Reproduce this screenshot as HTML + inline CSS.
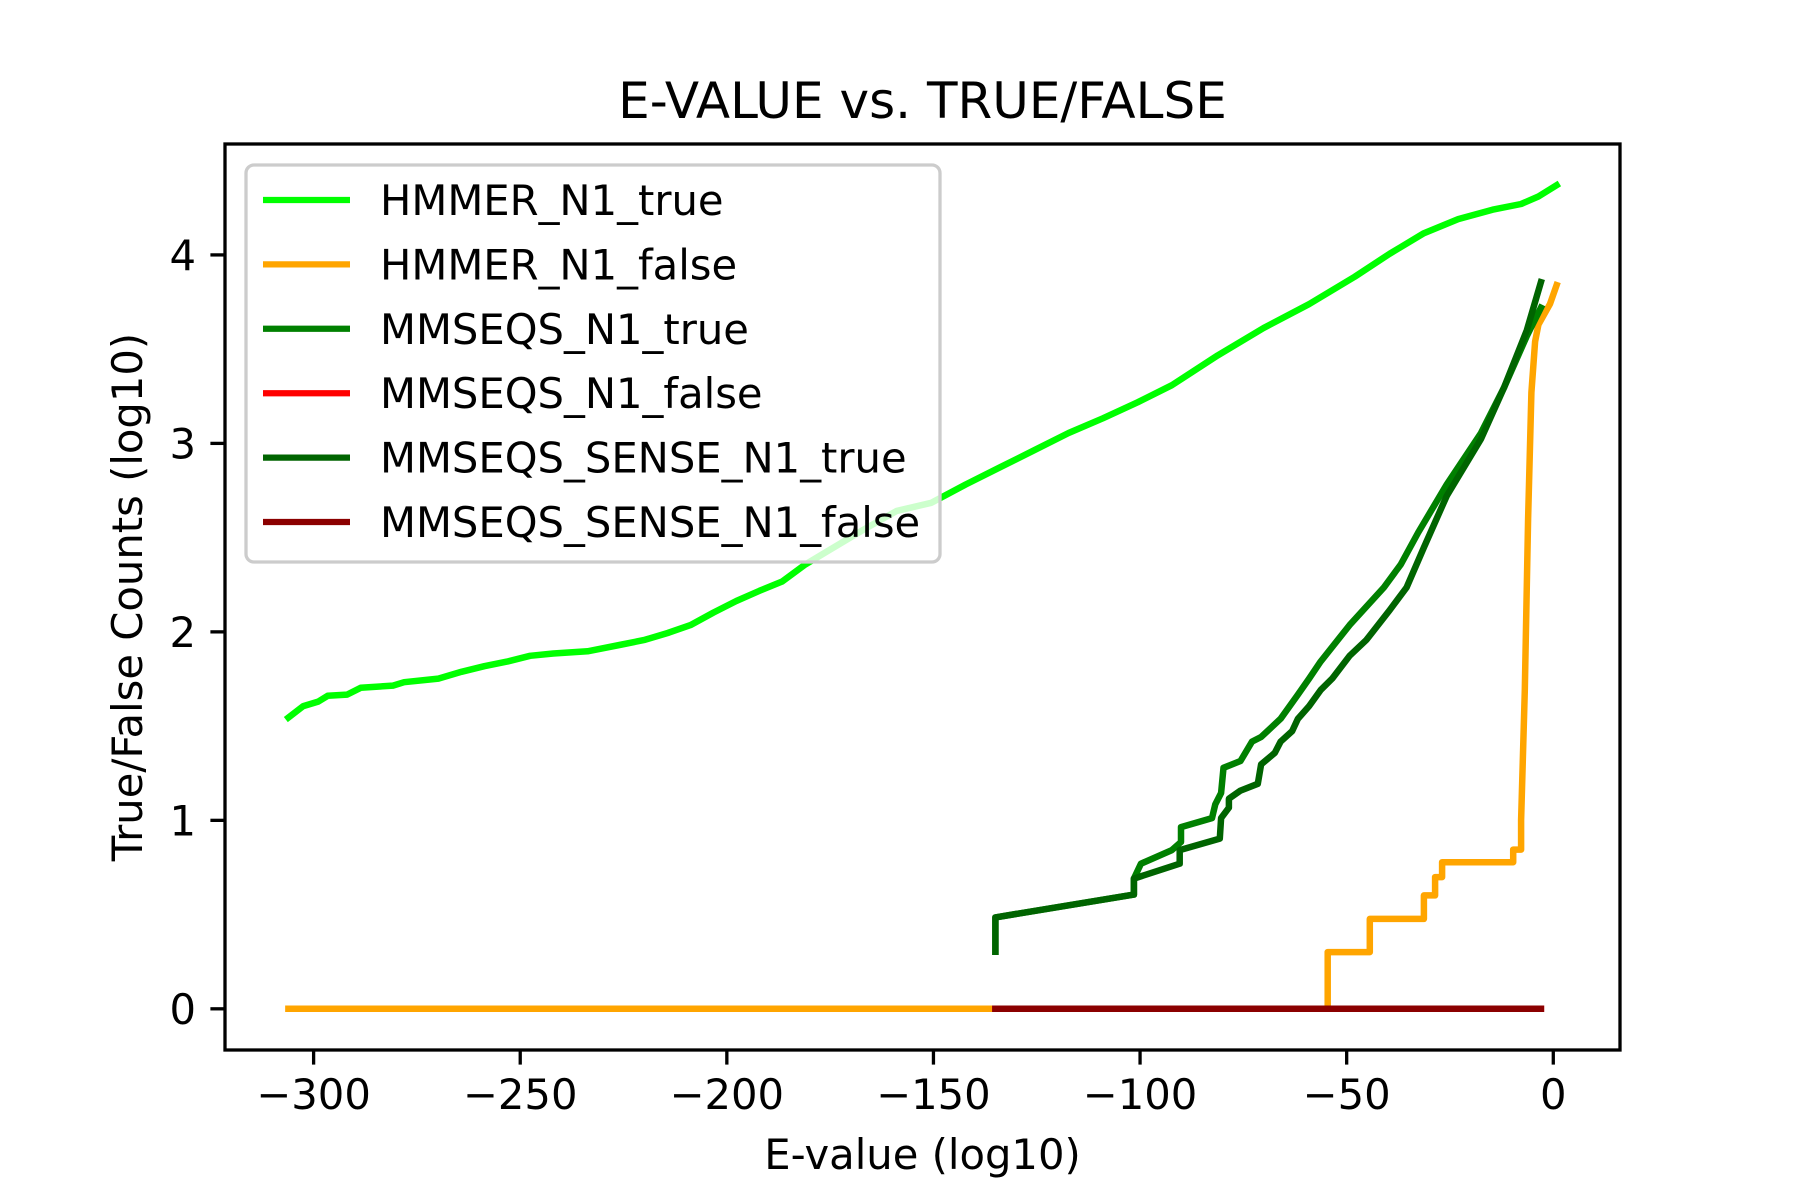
<!DOCTYPE html>
<html><head><meta charset="utf-8"><style>
html,body{margin:0;padding:0;background:#fff;}
svg{display:block;font-family:"DejaVu Sans","Liberation Sans",sans-serif;}
</style></head><body>
<svg id="chart" width="1800" height="1200" viewBox="0 0 1800 1200">
<rect width="1800" height="1200" fill="#fff"/>
<text x="922.5" y="118" font-size="50" text-anchor="middle">E-VALUE vs. TRUE/FALSE</text>
<g id="plot"></g>
<g id="xticks"></g>
<g id="yticks"></g>
<rect x="225" y="144" width="1395" height="906" fill="none" stroke="#000" stroke-width="3.3"/>
<text x="922.5" y="1169" font-size="41.7" text-anchor="middle">E-value (log10)</text>
<text transform="translate(142,597) rotate(-90)" font-size="41.7" text-anchor="middle">True/False Counts (log10)</text>
<g id="legend"></g>
</svg>
<script>
const seriesNames = ["HMMER_N1_true","HMMER_N1_false","MMSEQS_N1_true","MMSEQS_N1_false","MMSEQS_SENSE_N1_true","MMSEQS_SENSE_N1_false"];
const seriesColors = ["#00ff00","#ffa500","#008000","#ff0000","#006400","#8b0000"];
const xTicks = [-300,-250,-200,-150,-100,-50,0];
const xTickLabels = ["\u2212300","\u2212250","\u2212200","\u2212150","\u2212100","\u221250","0"];
const yTicks = [0,1,2,3,4];
const yTickLabels = ["0","1","2","3","4"];
const hmmerTrueX = [-306.1,-302.5,-298.9,-296.6,-291.9,-288.6,-280.8,-278.1,-269.8,-264.2,-258.7,-253.2,-247.6,-242.0,-233.7,-225.4,-219.8,-214.3,-208.8,-203.2,-197.7,-192.1,-186.6,-181.0,-175.5,-167.2,-158.9,-150.5,-142.2,-133.9,-125.6,-117.3,-109.0,-100.6,-92.3,-81.2,-70.1,-59.1,-48.0,-39.6,-31.3,-23.0,-14.7,-7.8,-3.6,0.8];
const hmmerTrueY = [1.545,1.606,1.630,1.661,1.667,1.703,1.715,1.733,1.752,1.788,1.818,1.842,1.873,1.885,1.897,1.933,1.958,1.994,2.036,2.103,2.164,2.218,2.267,2.358,2.430,2.539,2.642,2.685,2.782,2.873,2.964,3.055,3.133,3.218,3.309,3.467,3.612,3.739,3.885,4.006,4.115,4.190,4.240,4.270,4.310,4.37];
const hmmerFalseX = [-306.1,-54.6,-54.6,-44.4,-44.4,-31.3,-31.3,-28.6,-28.6,-26.9,-26.9,-9.7,-9.7,-7.8,-7.8,-6.9,-6.1,-5.3,-4.4,-3.6,-0.8,0.8];
const hmmerFalseY = [0,0,0.301,0.301,0.477,0.477,0.602,0.602,0.699,0.699,0.778,0.778,0.845,0.845,1.0,1.69,2.6,3.27,3.54,3.63,3.74,3.84];
const mmTrueX = [-135.0,-135.0,-101.5,-101.5,-99.8,-92.3,-90.1,-90.1,-82.6,-81.8,-80.4,-79.8,-75.7,-72.9,-70.7,-66.0,-61.8,-59.1,-56.3,-49.3,-41.0,-36.9,-32.7,-25.8,-17.5,-11.9,-6.4,-3.0];
const mmTrueY = [0.303,0.485,0.606,0.691,0.770,0.842,0.885,0.964,1.012,1.085,1.145,1.279,1.315,1.418,1.442,1.539,1.667,1.752,1.842,2.036,2.236,2.358,2.527,2.782,3.055,3.297,3.57,3.72];
const mmFalseX = [-135.0,-3.0];
const mmFalseY = [0,0];
const senseTrueX = [-135.0,-135.0,-101.5,-101.5,-90.4,-90.4,-80.7,-80.4,-78.5,-78.5,-75.7,-71.5,-70.7,-67.4,-66.0,-63.2,-61.8,-59.1,-56.3,-53.5,-49.3,-45.2,-39.6,-35.5,-31.3,-25.8,-17.5,-11.9,-6.4,-3.0];
const senseTrueY = [0.303,0.485,0.606,0.691,0.770,0.842,0.903,1.012,1.067,1.115,1.158,1.194,1.297,1.358,1.418,1.473,1.539,1.606,1.691,1.752,1.873,1.958,2.115,2.236,2.448,2.721,3.024,3.297,3.6,3.855];
const senseFalseX = [-135.0,-3.0];
const senseFalseY = [0,0];

const NS = "http://www.w3.org/2000/svg";
const allX = [hmmerTrueX,hmmerFalseX,mmTrueX,mmFalseX,senseTrueX,senseFalseX];
const allY = [hmmerTrueY,hmmerFalseY,mmTrueY,mmFalseY,senseTrueY,senseFalseY];
let xmin=Infinity,xmax=-Infinity,ymin=Infinity,ymax=-Infinity;
allX.forEach(a=>a.forEach(v=>{xmin=Math.min(xmin,v);xmax=Math.max(xmax,v);}));
allY.forEach(a=>a.forEach(v=>{ymin=Math.min(ymin,v);ymax=Math.max(ymax,v);}));
const xp=(xmax-xmin)*0.05, yp=(ymax-ymin)*0.05;
const X0=225,X1=1620,Y0=1050,Y1=144;
function sx(v){return X0+(v-(xmin-xp))/((xmax+xp)-(xmin-xp))*(X1-X0);}
function sy(v){return Y0-(v-(ymin-yp))/((ymax+yp)-(ymin-yp))*(Y0-Y1);}

const plot=document.getElementById('plot');
for(let i=0;i<allX.length;i++){
  const p=document.createElementNS(NS,'polyline');
  p.setAttribute('points',allX[i].map((x,j)=>sx(x).toFixed(1)+','+sy(allY[i][j]).toFixed(1)).join(' '));
  p.setAttribute('fill','none');
  p.setAttribute('stroke',seriesColors[i]);
  p.setAttribute('stroke-width','6.5');
  p.setAttribute('stroke-linecap','square');
  p.setAttribute('stroke-linejoin','round');
  
  
  plot.appendChild(p);
}
const xg=document.getElementById('xticks');
xTicks.forEach((t,i)=>{
  const l=document.createElementNS(NS,'line');
  l.setAttribute('x1',sx(t));l.setAttribute('x2',sx(t));
  l.setAttribute('y1',Y0);l.setAttribute('y2',Y0+14.6);
  l.setAttribute('stroke','#000');l.setAttribute('stroke-width','3.3');
  
  
  xg.appendChild(l);
  const tx=document.createElementNS(NS,'text');
  tx.setAttribute('x',sx(t));tx.setAttribute('y',Y0+59);
  tx.setAttribute('font-size','41.7');tx.setAttribute('text-anchor','middle');
  tx.textContent=xTickLabels[i];
  
  
  xg.appendChild(tx);
});
const yg=document.getElementById('yticks');
yTicks.forEach((t,i)=>{
  const l=document.createElementNS(NS,'line');
  l.setAttribute('x1',X0-14.6);l.setAttribute('x2',X0);
  l.setAttribute('y1',sy(t));l.setAttribute('y2',sy(t));
  l.setAttribute('stroke','#000');l.setAttribute('stroke-width','3.3');
  
  
  yg.appendChild(l);
  const tx=document.createElementNS(NS,'text');
  tx.setAttribute('x',X0-29);tx.setAttribute('y',sy(t)+15);
  tx.setAttribute('font-size','41.7');tx.setAttribute('text-anchor','end');
  tx.textContent=yTickLabels[i];
  
  
  yg.appendChild(tx);
});
const lg=document.getElementById('legend');
const fr=document.createElementNS(NS,'rect');
fr.setAttribute('x',246);fr.setAttribute('y',165);fr.setAttribute('width',694);fr.setAttribute('height',397);
fr.setAttribute('rx',8);fr.setAttribute('fill','#fff');fr.setAttribute('fill-opacity','0.8');
fr.setAttribute('stroke','#cccccc');fr.setAttribute('stroke-width','3.3');


lg.appendChild(fr);
seriesNames.forEach((n,i)=>{
  const cy=200+i*64.4;
  const l=document.createElementNS(NS,'line');
  l.setAttribute('x1',263);l.setAttribute('x2',350);l.setAttribute('y1',cy);l.setAttribute('y2',cy);
  l.setAttribute('stroke',seriesColors[i]);l.setAttribute('stroke-width','6.25');
  
  
  lg.appendChild(l);
  const tx=document.createElementNS(NS,'text');
  tx.setAttribute('x',380);tx.setAttribute('y',cy+15);tx.setAttribute('font-size','41.7');
  tx.textContent=n;
  
  
  lg.appendChild(tx);
});
</script>
</body></html>
